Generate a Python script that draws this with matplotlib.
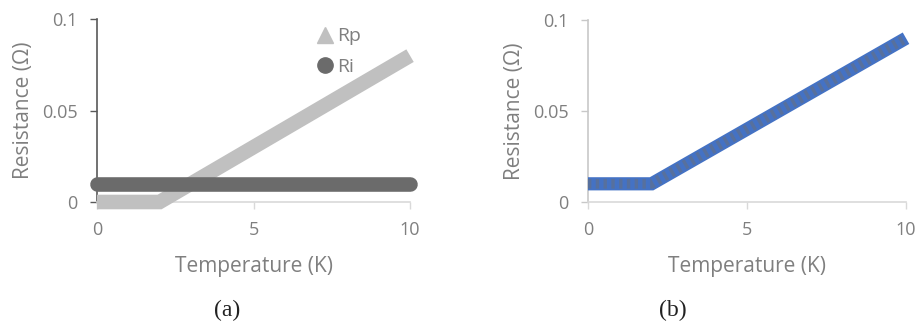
import matplotlib.pyplot as plt
from matplotlib.lines import Line2D

# datos (puntos de quiebre)
temperatura = [0, 2, 10]
rp = [0, 0, 0.08]
ri = [0.01, 0.01, 0.01]
r_total = [0.01, 0.01, 0.09]

x_ticks = [0, 5, 10]
x_labels = ['0', '5', '10']
y_ticks = [0, 0.05, 0.1]
y_labels = ['0', '0.05', '0.1']

TXT = '#7f7f7f'
FUENTE = 'Open Sans'

plt.rcParams['font.family'] = [FUENTE, 'DejaVu Sans']


def preparar_ejes(ax, color_y):
    ax.set_xlim(0, 10)
    ax.set_ylim(0, 0.1)
    for lado in ['top', 'right']:
        ax.spines[lado].set_visible(False)
    ax.spines['bottom'].set_color('#d9d9d9')
    ax.spines['bottom'].set_linewidth(1.2)
    ax.spines['left'].set_color(color_y)
    ax.spines['left'].set_linewidth(1.2)
    ax.set_xticks(x_ticks)
    ax.set_xticklabels(x_labels)
    ax.set_yticks(y_ticks)
    ax.set_yticklabels(y_labels)
    ax.tick_params(axis='x', length=5, width=1, color='#d9d9d9', pad=9,
                   labelsize=13, labelcolor=TXT)
    ax.tick_params(axis='y', length=5, width=1, color=color_y, pad=9,
                   labelsize=13, labelcolor=TXT)
    ax.set_xlabel('Temperature (K)', fontsize=15, color=TXT, labelpad=12)
    ax.set_ylabel('Resistance (Ω)', fontsize=15, color=TXT, labelpad=6)


fig = plt.figure(figsize=(9.2, 3.23), dpi=100)
ax1 = fig.add_axes([0.1054, 0.3746, 0.3403, 0.5664])
ax2 = fig.add_axes([0.6391, 0.3746, 0.3457, 0.5634])

# (a) Rp y Ri
preparar_ejes(ax1, '#595959')
ax1.plot(temperatura, rp, color='#c0c0c0', lw=10.5, solid_capstyle='butt',
         solid_joinstyle='miter', clip_on=False, zorder=3)
ax1.plot(temperatura, ri, color='#6b6b6b', lw=10.5, solid_capstyle='round',
         clip_on=False, zorder=4)

marcas = [Line2D([], [], ls='none', marker='^', ms=11, color='#c0c0c0'),
          Line2D([], [], ls='none', marker='o', ms=11, color='#6b6b6b')]
ley = ax1.legend(marcas, ['Rp', 'Ri'], loc='upper left',
                 bbox_to_anchor=(0.655, 1.05), frameon=False, fontsize=14,
                 handlelength=0.6, handletextpad=0.3, labelspacing=0.65,
                 labelcolor=TXT)

# (b) resistencia total
preparar_ejes(ax2, '#c8c8c8')
ax2.plot(temperatura, r_total, color='#4472c4', lw=9.5, solid_capstyle='butt',
         solid_joinstyle='miter', clip_on=False, zorder=3)
ax2.plot(temperatura, r_total, color='#6f6f6f', lw=7, alpha=0.45,
         dashes=(0.35, 0.45), solid_capstyle='butt', clip_on=False, zorder=4)

fig.text(0.2467, 0.04, '(a)', fontsize=17, family='Liberation Serif',
         ha='center', va='center', color='#222222')
fig.text(0.7315, 0.04, '(b)', fontsize=17, family='Liberation Serif',
         ha='center', va='center', color='#222222')

fig.savefig('out.png', dpi=100, facecolor='white')
